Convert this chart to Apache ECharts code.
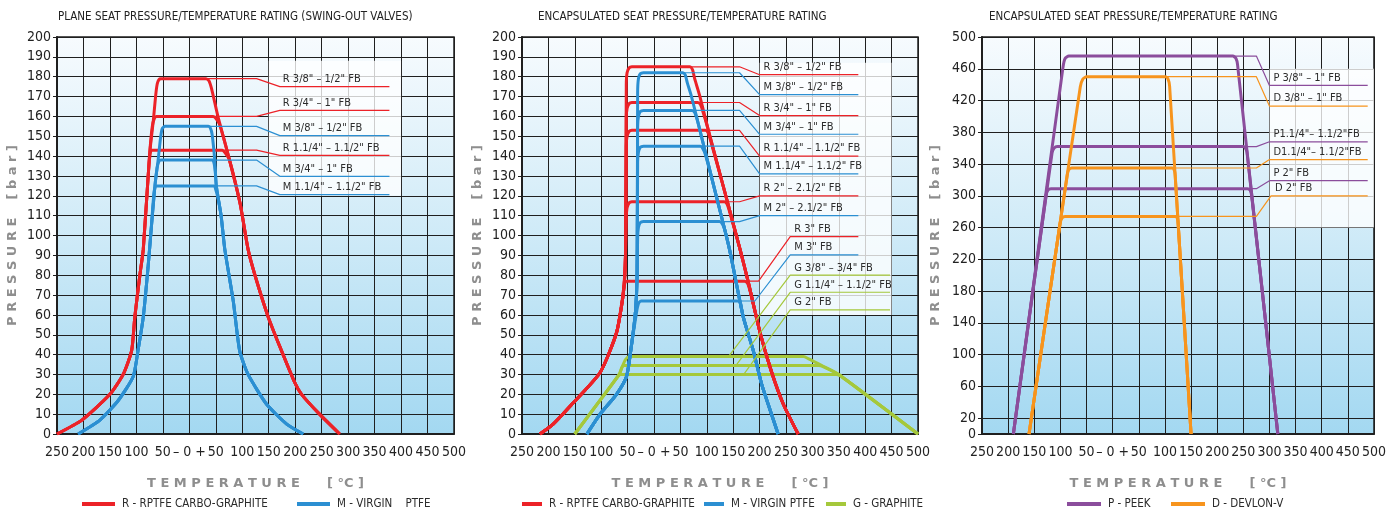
<!DOCTYPE html>
<html>
<head>
<meta charset="utf-8">
<script src="https://cdn.jsdelivr.net/npm/echarts@6/dist/echarts.min.js"></script>
<style>
html, body { margin: 0; padding: 0; background: #fff; }
#chart { width: 1389px; height: 512px; }
</style>
</head>
<body>
<div id="chart"></div>
<script>
const FONT = '"Liberation Sans Narrow", "DejaVu Sans Condensed", sans-serif';

// titles
const panelTitles = [
  'PLANE SEAT PRESSURE/TEMPERATURE RATING (SWING-OUT VALVES)',
  'ENCAPSULATED SEAT PRESSURE/TEMPERATURE RATING',
  'ENCAPSULATED SEAT PRESSURE/TEMPERATURE RATING'
];

// temperature axis (value -> printed text)
const tempTicks = [-250, -200, -150, -100, -50, 0, 50, 100, 150, 200, 250, 300, 350, 400, 450, 500];
const tempTickText = ['250', '200', '150', '100', '50', '– 0 +', '50', '100', '150', '200', '250', '300', '350', '400', '450', '500'];
// pressure ticks of the right panel
const pressTicks3 = [0, 20, 60, 100, 140, 180, 220, 260, 300, 340, 380, 420, 460, 500];

// ---------- panel 1 : plane seat ----------
const plateR = [
  [[-250,0],[-203,7],[-150,20],[-125,30],[-109,42],[-103,59],[-93,81],[-87,93],[-75,141],[-68,158],[-63,172],[-60,177],[-55,179],[31,179],[37,178],[42,174],[54,160],[73,141],[96,116],[111,93],[124,80],[149,59],[171,44],[199,26],[212,20],[246,10],[284,0]],
  [[-250,0],[-203,7],[-150,20],[-125,30],[-109,42],[-103,59],[-93,81],[-87,93],[-75,141],[-70,155],[-66,159],[-62,160],[45,160],[50,159],[57,156],[73,141],[96,116],[111,93],[124,80],[149,59],[171,44],[199,26],[212,20],[246,10],[284,0]],
  [[-250,0],[-203,7],[-150,20],[-125,30],[-109,42],[-103,59],[-93,81],[-87,93],[-77,133],[-75,139],[-71,143],[62,143],[68,141.5],[76,138],[96,116],[111,93],[124,80],[149,59],[171,44],[199,26],[212,20],[246,10],[284,0]]
];
const plateM = [
  [[-210,0],[-169,7],[-134,17],[-106,29],[-97,42],[-87,59],[-78,84],[-73,100],[-65,125],[-59,138],[-54,150],[-51,154],[-46,155],[36,155],[40,154],[43,151],[48,138],[51,125],[60,110],[67,93],[83,67],[95,42],[111,30],[146,15],[184,5],[215,0]],
  [[-210,0],[-169,7],[-134,17],[-106,29],[-97,42],[-87,59],[-78,84],[-73,100],[-65,125],[-61,134],[-58,137],[-54,138],[44,138],[47,136],[49,132],[51,125],[60,110],[67,93],[83,67],[95,42],[111,30],[146,15],[184,5],[215,0]],
  [[-210,0],[-169,7],[-134,17],[-106,29],[-97,42],[-87,59],[-78,84],[-73,100],[-68,118],[-66,123],[-62,125],[47,125],[50,123],[54,119],[60,110],[67,93],[83,67],[95,42],[111,30],[146,15],[184,5],[215,0]]
];
const plateLeadR = [
  [[30,179],[127,179],[171,175],[378,175]],
  [[45,160],[127,160],[171,163],[378,163]],
  [[62,143],[127,143],[171,140.4],[378,140.4]]
];
const plateLeadRText = ['R 3/8" – 1/2" FB', 'R 3/4" – 1" FB', 'R 1.1/4" – 1.1/2" FB'];
const plateLeadM = [
  [[35,155],[127,155],[171,150.3],[378,150.3]],
  [[44,138],[127,138],[171,129.8],[378,129.8]],
  [[47,125],[127,125],[171,120.6],[378,120.6]]
];
const plateLeadMText = ['M 3/8" – 1/2" FB', 'M 3/4" – 1" FB', 'M 1.1/4" – 1.1/2" FB'];

// ---------- panel 2 : encapsulated seat ----------
const encR = [
  [[-216,0],[-191,5],[-159,14],[-102,31],[-71,51],[-58,71],[-54,90],[-52.5,176],[-51,182],[-47,184.5],[-42,185],[68,185],[73,183.5],[77,179],[87,170],[103,153],[133,123],[163,93],[179,76],[201,51],[223,31],[245,15],[273,0]],
  [[-216,0],[-191,5],[-159,14],[-102,31],[-71,51],[-58,71],[-54,90],[-52.5,159],[-51,164],[-47,166.5],[-42,167],[83,167],[88,166],[92,163],[103,153],[133,123],[163,93],[179,76],[201,51],[223,31],[245,15],[273,0]],
  [[-216,0],[-191,5],[-159,14],[-102,31],[-71,51],[-58,71],[-54,90],[-52.5,145],[-51,150],[-47,152.5],[-42,153],[97,153],[102,152],[106,149],[133,123],[163,93],[179,76],[201,51],[223,31],[245,15],[273,0]],
  [[-216,0],[-191,5],[-159,14],[-102,31],[-71,51],[-58,71],[-54,90],[-52.5,109],[-51,114],[-47,116.5],[-42,117],[133,117],[138,116],[142,113],[163,93],[179,76],[201,51],[223,31],[245,15],[273,0]],
  [[-216,0],[-191,5],[-159,14],[-102,31],[-71,51],[-60,68],[-57,74],[-52,77],[171,77],[177,76],[182,72],[201,51],[223,31],[245,15],[273,0]]
];
const encM = [
  [[-127,0],[-102,10],[-71,20],[-52,29],[-42,46],[-35,62],[-32,80],[-31,172],[-29.5,179],[-26,181.5],[-20,182],[54,182],[59,181],[63,177],[71,170],[87,153],[115,123],[143,93],[169,59],[188,42],[204,25],[220,12],[235,0]],
  [[-127,0],[-102,10],[-71,20],[-52,29],[-42,46],[-35,62],[-32,80],[-31,155],[-29.5,160],[-26,162.5],[-20,163],[72,163],[77,162],[81,159],[87,153],[115,123],[143,93],[169,59],[188,42],[204,25],[220,12],[235,0]],
  [[-127,0],[-102,10],[-71,20],[-52,29],[-42,46],[-35,62],[-32,80],[-31,137],[-29.5,142],[-26,144.5],[-20,145],[88,145],[92,144],[97,141],[115,123],[143,93],[169,59],[188,42],[204,25],[220,12],[235,0]],
  [[-127,0],[-102,10],[-71,20],[-52,29],[-42,46],[-35,62],[-32,80],[-31,99],[-29.5,104],[-26,106.5],[-20,107],[124,107],[129,106],[134,103],[143,93],[169,59],[188,42],[204,25],[220,12],[235,0]],
  [[-127,0],[-102,10],[-71,20],[-52,29],[-42,46],[-35,58],[-32,63],[-29,66],[-24,67],[160,67],[164,66],[166,63],[169,59],[188,42],[204,25],[220,12],[235,0]]
];
const encG = [
  [[-150,0],[-66,30],[-60,34],[-54,37.5],[-47,39],[283,39],[292,38],[318,34.5],[350,30],[500,0]],
  [[-150,0],[-66,30],[-61,33.5],[-56,34.5],[312,34.5],[320,34],[350,30],[500,0]],
  [[-150,0],[-68,29],[-63,30],[345,30],[352,29.5],[500,0]]
];
const encLeadR = [
  [[70,185],[162,185],[200,181],[387,181]],
  [[85,167],[162,167],[200,160.4],[387,160.4]],
  [[98,153],[162,153],[200,140],[387,140]],
  [[135,117],[162,117],[200,120],[387,120]],
  [[170,77],[198,77],[258,99.4],[387,99.4]]
];
const encLeadRText = ['R 3/8" – 1/2" FB', 'R 3/4" – 1" FB', 'R 1.1/4" – 1.1/2" FB', 'R 2" – 2.1/2" FB', 'R 3" FB'];
const encLeadM = [
  [[55,182],[162,182],[200,171],[387,171]],
  [[73,163],[162,163],[200,151],[387,151]],
  [[88,145],[162,145],[200,131],[387,131]],
  [[125,107],[162,107],[200,110],[387,110]],
  [[160,67],[191,67],[258,90.2],[387,90.2]]
];
const encLeadMText = ['M 3/8" – 1/2" FB', 'M 3/4" – 1" FB', 'M 1.1/4" – 1.1/2" FB', 'M 2" – 2.1/2" FB', 'M 3" FB'];
const encLeadG = [
  [[141,39],[258,80],[447,80]],
  [[155,34.5],[258,71.4],[447,71.4]],
  [[170,30],[258,62.5],[447,62.5]]
];
const encLeadGText = ['G 3/8" – 3/4" FB', 'G 1.1/4" – 1.1/2" FB', 'G 2" FB'];

// ---------- panel 3 : PEEK / DEVLON ----------
const peekP = [
  [[-190,0],[-95,462],[-91,473],[-84,476],[230,476],[236,473],[239,465],[316,0]],
  [[-190,0],[-116,354],[-112,360],[-106,362],[250,362],[254,360],[257,355],[316,0]],
  [[-190,0],[-127.5,300],[-124,307],[-118,309],[258,309],[263,307],[266,300],[316,0]]
];
const devlonD = [
  [[-160,0],[-62,437],[-57,447],[-50,450],[101,450],[106,447],[109,438],[150,0]],
  [[-160,0],[-87,326],[-84,333],[-78,335],[114,335],[118,332],[119.6,326],[150,0]],
  [[-160,0],[-100.6,265],[-97,272],[-91,274],[120,274],[124,271],[125.3,265],[150,0]]
];
const peekLead = [
  [[230,476],[275,476],[300,439],[488,439]],
  [[250,362],[275,362],[300,368],[488,368]],
  [[258,309],[275,309],[300,319],[488,319]]
];
const peekLeadText = ['P 3/8" – 1" FB', 'P1.1/4"– 1.1/2"FB', 'P 2" FB'];
const devlonLead = [
  [[100,450],[275,450],[300,413],[488,413]],
  [[115,335],[275,335],[300,345.6],[488,345.6]],
  [[120,274],[275,274],[303,300],[488,300]]
];
const devlonLeadText = ['D 3/8" – 1" FB', 'D1.1/4"– 1.1/2"FB', 'D 2" FB'];

// label boxes [xmin, ymin, xmax, ymax] in data units
const labelBoxes = [[150, 120, 400, 188], [200, 60, 450, 187], [300, 260, 500, 460]];

const RED = '#ec2228', BLUE = '#2b8fd2', GREEN = '#a5c83b', PURPLE = '#8b4d9c', ORANGE = '#f7941d';
const NAME_R = 'R - RPTFE CARBO-GRAPHITE', NAME_M = 'M - VIRGIN    PTFE', NAME_M2 = 'M - VIRGIN PTFE',
      NAME_G = 'G - GRAPHITE', NAME_P = 'P - PEEK', NAME_D = 'D - DEVLON-V';

function curves(name, color, idx, list) {
  return list.map(c => ({
    type: 'line', name, xAxisIndex: idx, yAxisIndex: idx, data: c,
    smooth: 0.2, showSymbol: false, silent: true, z: 3,
    lineStyle: { width: 3, color }, itemStyle: { color }
  }));
}
function leaders(name, color, idx, list, texts, dx) {
  return list.map((l, i) => ({
    type: 'line', name, xAxisIndex: idx, yAxisIndex: idx, silent: true, z: 4,
    symbol: 'circle', symbolSize: 0, showSymbol: true,
    lineStyle: { width: 1.2, color }, itemStyle: { color },
    data: l.map((p, j) => j === l.length - 2 ? {
      value: p,
      label: { show: true, formatter: texts[i], position: 'top', align: 'left', distance: 2,
               offset: [dx, 0], color: '#2b2b2b', fontSize: 11, fontFamily: FONT }
    } : p)
  }));
}
function box(idx) {
  const b = labelBoxes[idx];
  return {
    type: 'line', xAxisIndex: idx, yAxisIndex: idx, data: [], silent: true,
    markArea: { silent: true, itemStyle: { color: 'rgba(255,255,255,0.78)' },
      data: [[{ coord: [b[0], b[1]] }, { coord: [b[2], b[3]] }]] }
  };
}

const bg = { type: 'linear', x: 0, y: 0, x2: 0, y2: 1,
  colorStops: [{ offset: 0, color: '#f7fbfe' }, { offset: 0.45, color: '#d3ecf8' }, { offset: 1, color: '#a3d8f1' }] };

const grids = [
  { left: 57, top: 37, width: 397, height: 397 },
  { left: 522, top: 37, width: 396, height: 397 },
  { left: 982, top: 37, width: 398, height: 397 }
].map(g => Object.assign(g, { show: true, backgroundColor: bg, borderColor: '#1f1f1f', borderWidth: 1.5 }));

const axisNameStyle = { color: '#8e8e8e', fontWeight: 'bold', fontSize: 13, fontFamily: '"DejaVu Sans", sans-serif' };

const xAxes = [0, 1, 2].map(i => ({
  type: 'value', gridIndex: i, min: -250, max: 500, interval: 50,
  name: 'T E M P E R A T U R E      [ °C ]', nameLocation: 'middle', nameGap: 43, nameTextStyle: axisNameStyle,
  axisLine: { show: true, onZero: false, lineStyle: { color: '#1f1f1f', width: 2 } },
  axisTick: { show: false },
  axisLabel: { color: '#222', fontSize: 14, fontFamily: FONT, margin: 11,
    formatter: v => tempTickText[tempTicks.indexOf(v)] },
  splitLine: { show: true, lineStyle: { color: '#1f1f1f', width: 1 } }
}));

const yBase = i => ({
  type: 'value', gridIndex: i, min: 0,
  name: 'P R E S S U R E    [ b a r ]', nameLocation: 'middle', nameGap: 38, nameRotate: 90, nameTextStyle: axisNameStyle,
  axisLine: { show: true, onZero: false, lineStyle: { color: '#1f1f1f', width: 2 } },
  axisTick: { show: true, inside: false, length: 4, lineStyle: { color: '#1f1f1f' } },
  axisLabel: { color: '#222', fontSize: 14, fontFamily: FONT, margin: 6 },
  splitLine: { show: true, lineStyle: { color: '#1f1f1f', width: 1 } }
});
const yAxes = [
  Object.assign(yBase(0), { max: 200, interval: 10 }),
  Object.assign(yBase(1), { max: 200, interval: 10 }),
  Object.assign(yBase(2), { max: 500 })
];
yAxes[2].axisTick.customValues = pressTicks3;
yAxes[2].axisLabel.customValues = pressTicks3;
yAxes[2].nameGap = 40;

const series = [].concat(
  box(0), box(1), box(2),
  curves(NAME_R, RED, 0, plateR), curves(NAME_M, BLUE, 0, plateM),
  leaders(NAME_R, RED, 0, plateLeadR, plateLeadRText, 3),
  leaders(NAME_M, BLUE, 0, plateLeadM, plateLeadMText, 3),
  curves(NAME_G, GREEN, 1, encG),
  curves(NAME_R + ' ', RED, 1, encR), curves(NAME_M2, BLUE, 1, encM),
  leaders(NAME_R + ' ', RED, 1, encLeadR, encLeadRText, 4),
  leaders(NAME_M2, BLUE, 1, encLeadM, encLeadMText, 4),
  leaders(NAME_G, GREEN, 1, encLeadG, encLeadGText, 4),
  curves(NAME_P, PURPLE, 2, peekP), curves(NAME_D, ORANGE, 2, devlonD),
  leaders(NAME_P, PURPLE, 2, peekLead, peekLeadText, 4),
  leaders(NAME_D, ORANGE, 2, devlonLead, devlonLeadText, 4)
);

const legendItem = (name, left, w) => ({
  data: [name], left, top: 498, icon: 'rect', itemWidth: w, itemHeight: 4, padding: 0, itemGap: 0,
  selectedMode: false, textStyle: { color: '#2b2b2b', fontSize: 11.5, fontFamily: FONT, padding: [0, 0, 0, 2] }
});

const chart = echarts.init(document.getElementById('chart'));
chart.setOption({
  animation: false,
  title: panelTitles.map((t, i) => ({
    text: t, left: [58, 538, 989][i], top: 11, padding: 0,
    textStyle: { color: '#222', fontSize: 11.5, fontWeight: 'normal', fontFamily: FONT }
  })),
  legend: [
    legendItem(NAME_R, 82, 33), legendItem(NAME_M, 297, 33),
    legendItem(NAME_R + ' ', 522, 20), legendItem(NAME_M2, 704, 20), legendItem(NAME_G, 826, 20),
    legendItem(NAME_P, 1067, 34), legendItem(NAME_D, 1171, 34)
  ],
  grid: grids,
  xAxis: xAxes,
  yAxis: yAxes,
  series
});
</script>
</body>
</html>
